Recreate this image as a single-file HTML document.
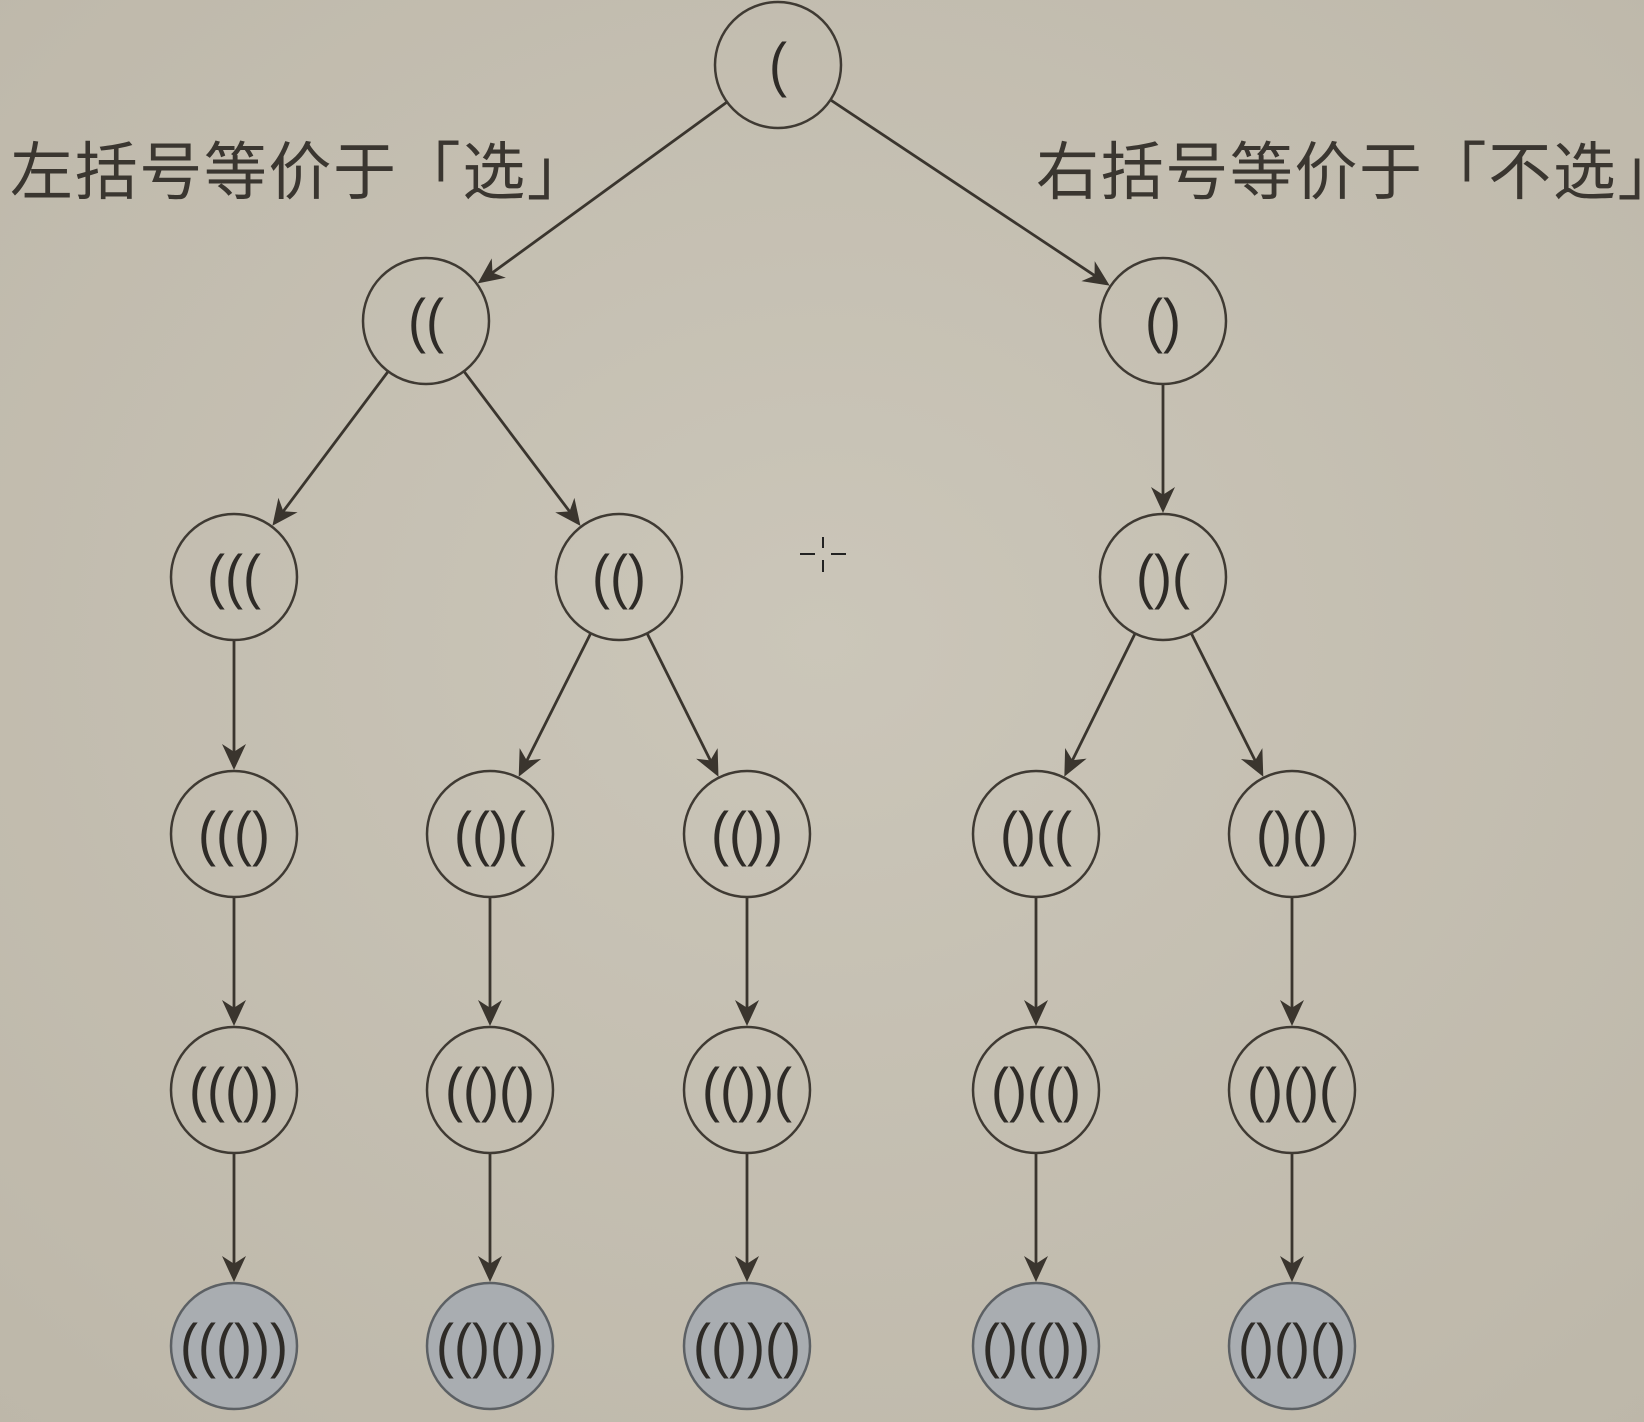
<!DOCTYPE html>
<html><head><meta charset="utf-8"><style>
html,body{margin:0;padding:0;width:1644px;height:1422px;overflow:hidden;background:#c6c1b4}
svg{display:block}
.lbl{position:absolute;font-family:"Liberation Sans","Noto Sans CJK SC",sans-serif;font-size:63px;color:#3a3630;white-space:nowrap;line-height:1;letter-spacing:1.6px}
</style></head><body>
<svg id="s" width="1644" height="1422" xmlns="http://www.w3.org/2000/svg">
<defs>
<radialGradient id="bg" cx="50%" cy="45%" r="75%">
<stop offset="0" stop-color="#cbc6b9"/><stop offset="1" stop-color="#bdb7a9"/>
</radialGradient>
</defs>
<rect width="1644" height="1422" fill="url(#bg)"/>
<g id="edges" stroke="#3a352e" stroke-width="2.8"></g>
<g id="nodes"></g>
<g stroke="#222" stroke-width="2"><line x1="800" y1="554" x2="815" y2="554"/><line x1="831" y1="554" x2="846" y2="554"/><line x1="823" y1="537" x2="823" y2="548"/><line x1="823" y1="560" x2="823" y2="572"/></g>
</svg>
<div class="lbl" style="left:10px;top:142px">左括号等价于「选」</div>
<div class="lbl" style="left:1036px;top:142px">右括号等价于「不选」</div>
<script>
var R=63;
var N={
a:[778,65,"("],
b:[426,321,"(("],c:[1163,321,"()"],
d:[234,577,"((("],e:[619,577,"(()"],f:[1163,577,"()("],
g:[234,834,"((()"],h:[490,834,"(()("],i:[747,834,"(())"],j:[1036,834,"()(("],k:[1292,834,"()()"],
l:[234,1090,"((())"],m:[490,1090,"(()()"],n:[747,1090,"(())("],o:[1036,1090,"()(()"],p:[1292,1090,"()()("],
q:[234,1346,"((()))",1],r:[490,1346,"(()())",1],s2:[747,1346,"(())()",1],t:[1036,1346,"()(())",1],u:[1292,1346,"()()()",1]};
var E=[["a","b"],["a","c"],["b","d"],["b","e"],["c","f"],["d","g"],["e","h"],["e","i"],["f","j"],["f","k"],
["g","l"],["h","m"],["i","n"],["j","o"],["k","p"],["l","q"],["m","r"],["n","s2"],["o","t"],["p","u"]];
var ns="http://www.w3.org/2000/svg",eg=document.getElementById("edges"),ng=document.getElementById("nodes");
E.forEach(function(e){var A=N[e[0]],B=N[e[1]];var dx=B[0]-A[0],dy=B[1]-A[1],L=Math.hypot(dx,dy),ux=dx/L,uy=dy/L;
var tx=B[0]-ux*(R+1),ty=B[1]-uy*(R+1),px=-uy,py=ux,s=26,w=12;
var l=document.createElementNS(ns,"line");
l.setAttribute("x1",A[0]+ux*R);l.setAttribute("y1",A[1]+uy*R);
l.setAttribute("x2",tx-ux*10);l.setAttribute("y2",ty-uy*10);
eg.appendChild(l);
var p=document.createElementNS(ns,"path");
p.setAttribute("d","M"+tx+","+ty+" L"+(tx-ux*s+px*w)+","+(ty-uy*s+py*w)+" L"+(tx-ux*s*0.7)+","+(ty-uy*s*0.7)+" L"+(tx-ux*s-px*w)+","+(ty-uy*s-py*w)+"z");
p.setAttribute("fill","#3a352e");p.setAttribute("stroke","none");eg.appendChild(p);});
for(var k in N){var n=N[k];
var c=document.createElementNS(ns,"circle");c.setAttribute("cx",n[0]);c.setAttribute("cy",n[1]);c.setAttribute("r",R);
c.setAttribute("fill",n[3]?"#a9adb1":"none");c.setAttribute("stroke",n[3]?"#5c6064":"#3f3a33");c.setAttribute("stroke-width","2.5");ng.appendChild(c);
var t=document.createElementNS(ns,"text");t.setAttribute("x",n[0]);t.setAttribute("y",n[1]+20);
t.setAttribute("text-anchor","middle");t.setAttribute("font-family","Liberation Sans, sans-serif");
t.setAttribute("font-size","60");t.setAttribute("fill","#2e2b27");
t.setAttribute("textLength",Math.min(108,n[2].length*18));t.setAttribute("lengthAdjust","spacingAndGlyphs");
t.textContent=n[2];ng.appendChild(t);}
</script>
</body></html>
